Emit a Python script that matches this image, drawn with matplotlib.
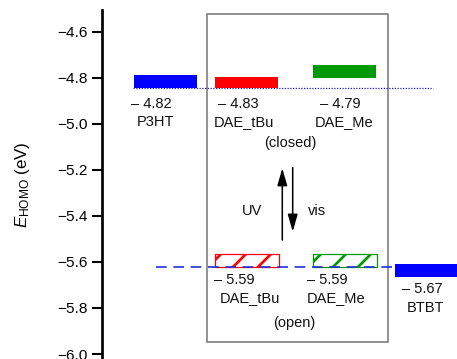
import matplotlib
matplotlib.use("Agg")
import matplotlib.pyplot as plt
from matplotlib.patches import Rectangle

plt.rcParams['font.family'] = ['Liberation Sans', 'DejaVu Sans']
plt.rcParams['mathtext.fontset'] = 'custom'
plt.rcParams['mathtext.rm'] = 'Liberation Sans'
plt.rcParams['mathtext.it'] = 'Liberation Sans:italic'
plt.rcParams['hatch.linewidth'] = 1.3

# ---- data ----
closed_names = ['P3HT', 'DAE_tBu', 'DAE_Me']
closed_homo = [-4.82, -4.83, -4.79]          # labelled values
closed_top = [-4.787, -4.795, -4.747]        # drawn bar extents
closed_bottom = [-4.845, -4.845, -4.801]
closed_colors = ['#0000ff', '#ff0000', '#009900']

open_names = ['DAE_tBu', 'DAE_Me']
open_homo = [-5.59, -5.59]
open_top = [-5.566, -5.566]
open_bottom = [-5.621, -5.621]
open_colors = ['#ff0000', '#009900']

btbt_name = 'BTBT'
btbt_homo = -5.67
btbt_top = -5.611
btbt_bottom = -5.665
btbt_color = '#0000ff'

dotted_level = -4.845
dashed_level = -5.62

yticks = [-6.0, -5.8, -5.6, -5.4, -5.2, -5.0, -4.8, -4.6]

# ---- layout (x in axis units) ----
closed_x = [32.3, 113.3, 211.6]
open_x = [113.3, 211.6]
btbt_x = 293.3
bar_w = 64

W, H, DPI = 457, 359, 150
fig = plt.figure(figsize=(W / DPI, H / DPI), dpi=DPI)
ax = fig.add_axes([101.7 / W, 0.0, 1 - 101.7 / W, 1 - 10 / H])
ax.set_xlim(0, 355.3)
ax.set_ylim(-6.0216, -4.506)

for x, t, b, c in zip(closed_x, closed_top, closed_bottom, closed_colors):
    ax.add_patch(Rectangle((x, b), bar_w - 1, t - b, facecolor=c, edgecolor='none', zorder=2))

for x, t, b, c in zip(open_x, open_top, open_bottom, open_colors):
    ax.add_patch(Rectangle((x, b), bar_w, t - b, facecolor='white', edgecolor=c,
                           hatch='//', lw=0.6, zorder=2))

ax.add_patch(Rectangle((btbt_x, btbt_bottom), bar_w + 10, btbt_top - btbt_bottom,
                       facecolor=btbt_color, edgecolor='none', zorder=3))

# box
ax.add_patch(Rectangle((105, -5.947), 181, 1.424, facecolor='none', edgecolor='#777777',
                       lw=0.75, zorder=1))

# level lines
ax.plot([31, 331.6], [dotted_level, dotted_level], color='#1a1ac8', lw=0.6,
        linestyle=(0, (1, 1.2)), zorder=4)
ax.plot([54.3, 355.3], [dashed_level, dashed_level], color='#2030e0', lw=0.8,
        linestyle=(0, (6.4, 4.0)), zorder=2.5)

fs = 7.0
def lab(x, y, s):
    ax.text(x, y, s, ha='center', va='center', fontsize=fs, color='#111111')

# closed labels
lab(50, -4.914, '\u2013 %.2f' % abs(closed_homo[0]))
lab(53.3, -4.991, closed_names[0])
lab(136.3, -4.914, '\u2013 %.2f' % abs(closed_homo[1]))
lab(142.3, -4.991, closed_names[1])
lab(238.3, -4.914, '\u2013 %.2f' % abs(closed_homo[2]))
lab(242, -4.991, closed_names[2])
lab(188.3, -5.083, '(closed)')

# open labels
lab(132.3, -5.679, '\u2013 %.2f' % abs(open_homo[0]))
lab(148.3, -5.758, open_names[0])
lab(225.8, -5.679, '\u2013 %.2f' % abs(open_homo[1]))
lab(234.3, -5.758, open_names[1])
lab(193, -5.867, '(open)')

lab(320.3, -5.719, '\u2013 %.2f' % abs(btbt_homo))
lab(324.3, -5.802, btbt_name)

lab(150, -5.378, 'UV')
lab(215, -5.378, 'vis')

ap = dict(arrowstyle='-|>,head_length=0.7,head_width=0.2', lw=0.75, color='k',
          mutation_scale=10, shrinkA=0, shrinkB=0)
ax.annotate('', xy=(180.6, -5.193), xytext=(180.6, -5.505), arrowprops=ap)
ax.annotate('', xy=(191, -5.469), xytext=(191, -5.19), arrowprops=ap)

# axes styling
for s in ['top', 'right', 'bottom']:
    ax.spines[s].set_visible(False)
ax.spines['left'].set_linewidth(1.3)
ax.set_xticks([])
ax.set_yticks(yticks)
ax.set_yticklabels(['\u2212%.1f' % abs(v) for v in yticks])
ax.tick_params(axis='y', direction='out', length=4.8, width=1.0, pad=1.8,
               labelsize=7.4, colors='k')
ax.set_ylabel(r'$E_{\mathrm{HOMO}}$ (eV)', fontsize=8.2)
ax.yaxis.set_label_coords(-0.195, 0.5)
ax.patch.set_visible(False)

fig.savefig('out.png', dpi=DPI)
